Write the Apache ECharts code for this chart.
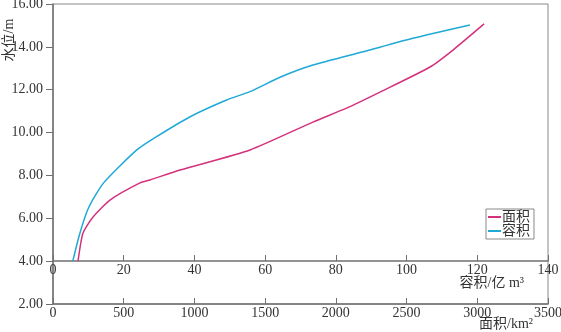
<!DOCTYPE html>
<html>
<head>
<meta charset="utf-8">
<script src="https://cdn.jsdelivr.net/npm/echarts@6/dist/echarts.min.js"></script>
<style>
  html, body { margin: 0; padding: 0; background: #fff; }
  #chart { width: 561px; height: 332px; }
</style>
</head>
<body>
<div id="chart"></div>
<script>
// water level (m) vs area (km2) and storage volume (1e8 m3)
var areaValues  = [177, 212, 283, 403, 615, 686, 898, 1393, 1838, 2079, 2312, 2666, 2828, 3048];
var areaLevels  = [4.00, 5.31, 6.06, 6.85, 7.65, 7.79, 8.25, 9.19, 10.49, 11.15, 11.89, 13.06, 13.85, 15.07];

var volumeValues = [5.6, 7.6, 10.0, 14.2, 23.7, 29.3, 38.8, 49.1, 55.7, 64.2, 73.5, 87.7, 101.8, 117.9];
var volumeLevels = [4.00, 5.30, 6.47, 7.63, 9.19, 9.81, 10.74, 11.52, 11.91, 12.58, 13.15, 13.77, 14.40, 15.02];

var levelTicks = { min: 2, max: 16, interval: 2 };
var areaTicks = { min: 0, max: 3500, interval: 500 };
var volumeTicks = { min: 0, max: 140, interval: 20 };

var serif = "'Liberation Serif', 'Noto Sans CJK SC', serif";
var axisColor = '#707070';
var textColor = '#333';

function pairs(xs, ys) {
  return xs.map(function (x, i) { return [x, ys[i]]; });
}

function label(text, x, y, align, rot) {
  return {
    type: 'text', x: x, y: y, rotation: rot || 0,
    style: { text: text, fontFamily: serif, fontSize: 14, fill: textColor, align: align, verticalAlign: 'middle' }
  };
}

var dom = document.getElementById('chart');
var myChart = echarts.init(dom, null, { renderer: 'canvas' });

var option = {
  animation: false,
  grid: {
    left: 53, right: 13, top: 4, bottom: 28,
    containLabel: false,
    outerBoundsMode: 'none',
    show: true,
    borderColor: '#888',
    borderWidth: 1
  },
  legend: {
    orient: 'vertical',
    left: 486, top: 209,
    padding: [1, 4, 1, 2],
    itemGap: 0,
    itemWidth: 13,
    itemHeight: 2,
    icon: 'rect',
    borderColor: '#888',
    borderWidth: 1,
    textStyle: { fontFamily: serif, fontSize: 14, color: textColor, lineHeight: 14, padding: [0, 0, 0, -4] },
    data: ['面积', '容积']
  },
  xAxis: [
    {
      type: 'value',
      position: 'bottom',
      min: areaTicks.min, max: areaTicks.max, interval: areaTicks.interval,
      axisLine: { lineStyle: { color: axisColor, width: 1.5 } },
      axisTick: { inside: true, length: 6, lineStyle: { color: axisColor } },
      axisLabel: { margin: 2, fontFamily: serif, fontSize: 14, color: textColor, formatter: function (v) { return String(v); } },
      splitLine: { show: false }
    },
    {
      type: 'value',
      position: 'bottom',
      offset: -43,
      min: volumeTicks.min, max: volumeTicks.max, interval: volumeTicks.interval,
      axisLine: { lineStyle: { color: axisColor, width: 1.5 } },
      axisTick: { inside: true, length: 6, lineStyle: { color: axisColor } },
      axisLabel: { margin: 2, fontFamily: serif, fontSize: 14, color: textColor, formatter: function (v) { return String(v); } },
      splitLine: { show: false }
    }
  ],
  yAxis: {
    type: 'value',
    min: levelTicks.min, max: levelTicks.max, interval: levelTicks.interval,
    axisLine: { show: true, lineStyle: { color: axisColor, width: 1.5 } },
    axisTick: { show: true, length: 7, lineStyle: { color: axisColor } },
    axisLabel: {
      margin: 10, fontFamily: serif, fontSize: 14, color: textColor,
      formatter: function (v) { return v.toFixed(2); }
    },
    splitLine: { show: false }
  },
  graphic: [
    label('水位/m', 9, 40, 'center', Math.PI / 2),
    label('容积/亿 m³', 524, 283, 'right'),
    label('面积/km²', 533, 324, 'right')
  ],
  series: [
    {
      name: '面积',
      type: 'line',
      xAxisIndex: 0,
      showSymbol: false,
      symbol: 'none',
      smooth: 0.2,
      lineStyle: { color: '#d4317c', width: 1.5 },
      itemStyle: { color: '#d4317c' },
      data: pairs(areaValues, areaLevels)
    },
    {
      name: '容积',
      type: 'line',
      xAxisIndex: 1,
      showSymbol: false,
      symbol: 'none',
      smooth: 0.2,
      lineStyle: { color: '#1fa9d6', width: 1.5 },
      itemStyle: { color: '#1fa9d6' },
      data: pairs(volumeValues, volumeLevels)
    }
  ]
};

myChart.setOption(option);
window.addEventListener('resize', myChart.resize);
</script>
</body>
</html>
